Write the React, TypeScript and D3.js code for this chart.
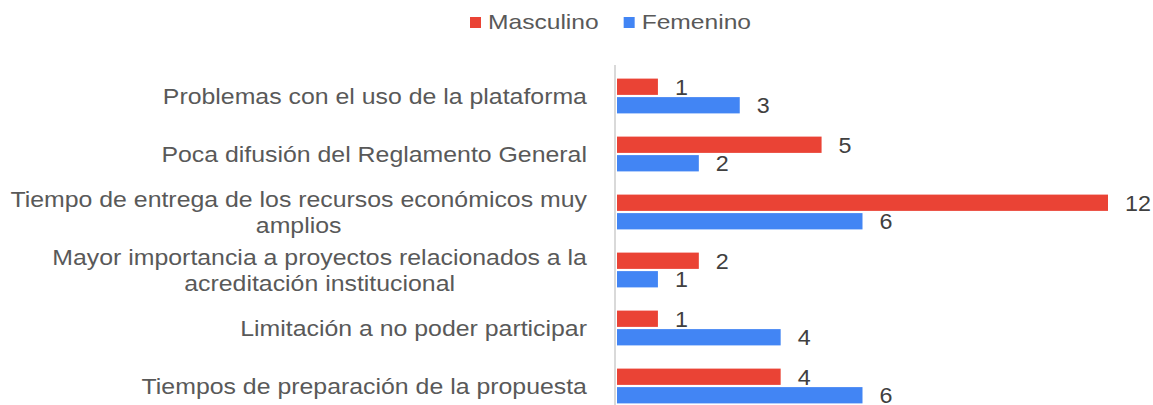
import React, { useRef, useEffect } from 'react';
import * as d3 from 'd3';

// category labels, top to bottom (already split into lines like the original)
const categories: string[][] = [
  ['Problemas con el uso de la plataforma'],
  ['Poca difusión del Reglamento General'],
  ['Tiempo de entrega de los recursos económicos muy', 'amplios'],
  ['Mayor importancia a proyectos relacionados a la', 'acreditación institucional'],
  ['Limitación a no poder participar'],
  ['Tiempos de preparación de la propuesta'],
];
const seriesNames = ['Masculino', 'Femenino'];
const masculino = [1, 5, 12, 2, 1, 4];
const femenino = [3, 2, 6, 1, 4, 6];
const colors = ['#EA4335', '#4285F4'];

const App = () => {
  const ref = useRef<SVGSVGElement | null>(null);

  useEffect(() => {
    const width = 1153;
    const height = 405;
    const stretch = 1.13;
    const font = 'Liberation Sans, Arial, sans-serif';

    const svg = d3.select(ref.current);
    svg.selectAll('*').remove();

    const keys = categories.map((c) => c.join(' '));
    const values = [masculino, femenino];

    const y0 = d3
      .scaleBand<string>()
      .domain(keys)
      .range([67, 415])
      .paddingInner(0.4)
      .paddingOuter(0.2);

    const y1 = d3
      .scaleBand<string>()
      .domain(seriesNames)
      .range([0, y0.bandwidth()])
      .paddingInner(0.12);

    const x = d3.scaleLinear().domain([0, 12]).range([617, 1108]);

    // legend
    const legend = svg.append('g');
    let lx = 470;
    seriesNames.forEach((name, i) => {
      legend
        .append('rect')
        .attr('x', lx)
        .attr('y', 17)
        .attr('width', 11)
        .attr('height', 11)
        .attr('fill', colors[i]);
      const t = legend
        .append('text')
        .attr('transform', `translate(${lx + 18},29) scale(1.2,1)`)
        .attr('font-family', font)
        .attr('font-size', 20.5)
        .attr('fill', '#595959')
        .text(name);
      const w = (t.node() as SVGTextElement).getComputedTextLength() * 1.2;
      lx += 18 + w + 25;
    });

    // vertical axis line
    svg
      .append('line')
      .attr('x1', 615)
      .attr('x2', 615)
      .attr('y1', 65)
      .attr('y2', height)
      .attr('stroke', '#d9d9d9')
      .attr('stroke-width', 2);

    // bars + value labels
    keys.forEach((k, ci) => {
      seriesNames.forEach((s, si) => {
        const v = values[si][ci];
        const by = (y0(k) ?? 0) + (y1(s) ?? 0);
        svg
          .append('rect')
          .attr('x', x(0))
          .attr('y', by)
          .attr('width', x(v) - x(0))
          .attr('height', y1.bandwidth())
          .attr('fill', colors[si]);
        svg
          .append('text')
          .attr('transform', `translate(${x(v) + 17},${by + y1.bandwidth() / 2}) scale(1.06,1)`)
          .attr('dominant-baseline', 'central')
          .attr('font-family', font)
          .attr('font-size', 22)
          .attr('fill', '#404040')
          .text(v);
      });
    });

    // category labels
    const right = 587;
    categories.forEach((lines, ci) => {
      const cy = (y0(keys[ci]) ?? 0) + y0.bandwidth() / 2;
      const g = svg.append('g');
      const nodes = lines.map((line) =>
        g
          .append('text')
          .attr('font-family', font)
          .attr('font-size', 22)
          .attr('fill', '#595959')
          .attr('text-anchor', 'middle')
          .text(line)
      );
      const maxW =
        d3.max(nodes, (n) => (n.node() as SVGTextElement).getComputedTextLength()) ?? 0;
      const cx = right - (maxW * stretch) / 2;
      nodes.forEach((n, i) => {
        const by = cy + (i - (lines.length - 1) / 2) * 26 + 8;
        n.attr('transform', `translate(${cx},${by}) scale(${stretch},1)`);
      });
    });

    svg.attr('width', width).attr('height', height);
  }, []);

  return (
    <svg
      ref={ref}
      width={1153}
      height={405}
      style={{ position: 'absolute', left: 0, top: 0, background: '#fff' }}
    />
  );
};

export default App;
